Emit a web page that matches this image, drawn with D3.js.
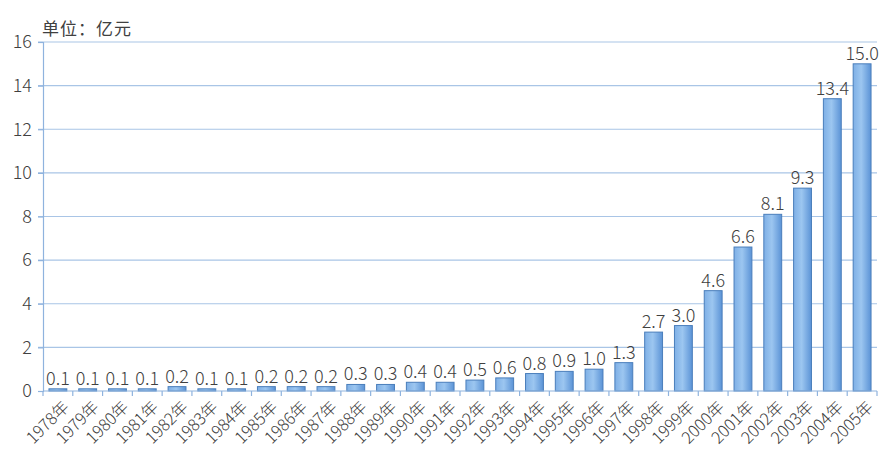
<!DOCTYPE html>
<html><head><meta charset="utf-8">
<script src="https://cdn.jsdelivr.net/npm/d3@7"></script>
<style>body{margin:0;background:#fff}</style>
</head><body>
<svg id="c" width="892" height="461"></svg>
<script>
const years = ["1978年","1979年","1980年","1981年","1982年","1983年","1984年","1985年","1986年","1987年","1988年","1989年","1990年","1991年","1992年","1993年","1994年","1995年","1996年","1997年","1998年","1999年","2000年","2001年","2002年","2003年","2004年","2005年"];
const values = [0.1,0.1,0.1,0.1,0.2,0.1,0.1,0.2,0.2,0.2,0.3,0.3,0.4,0.4,0.5,0.6,0.8,0.9,1.0,1.3,2.7,3.0,4.6,6.6,8.1,9.3,13.4,15.0];
const yTicks = [0,2,4,6,8,10,12,14,16];
const unitLabel = "单位：亿元";

const svg = d3.select("#c");
const m = {l:43, r:877, t:42, b:391};
const x = d3.scaleBand().domain(years).range([m.l, m.r]).paddingInner(0.4).paddingOuter(0.2);
const y = d3.scaleLinear().domain([0,16]).range([m.b, m.t]);
const font = "'Noto Sans CJK SC', 'Noto Sans', sans-serif";

const defs = svg.append("defs");
const g = defs.append("linearGradient").attr("id","bg").attr("x1","0").attr("x2","1").attr("y1","0").attr("y2","0");
g.append("stop").attr("offset","0%").attr("stop-color","#7fb0e6");
g.append("stop").attr("offset","45%").attr("stop-color","#9cc6f0");
g.append("stop").attr("offset","100%").attr("stop-color","#5b93d6");

// gridlines
svg.append("g").selectAll("line").data(yTicks.filter(d=>d>0)).join("line")
  .attr("x1", m.l-5).attr("x2", m.r).attr("y1", d=>y(d)).attr("y2", d=>y(d))
  .attr("stroke","#a9c5e6").attr("stroke-width",1.2);

// y axis
const ya = svg.append("g").attr("transform",`translate(${m.l},0)`)
  .call(d3.axisLeft(y).tickValues(yTicks).tickSize(5).tickPadding(6));
ya.select(".domain").attr("stroke","#8fb3de").attr("stroke-width",1.2);
ya.selectAll(".tick line").attr("stroke","#8fb3de").attr("stroke-width",1.2);
ya.selectAll("text").attr("font-family",font).attr("font-size",18).attr("font-weight",300).attr("fill","#404040");

// bars
svg.append("g").selectAll("rect").data(values).join("rect")
  .attr("x",(d,i)=>x(years[i])).attr("width",x.bandwidth())
  .attr("y",d=>y(d)).attr("height",d=>y(0)-y(d))
  .attr("fill","url(#bg)").attr("stroke","#4a7ebb").attr("stroke-width",1);

// x axis
const step = x.step();
const xa = svg.append("g").attr("transform",`translate(0,${m.b})`);
xa.append("line").attr("x1",m.l).attr("x2",m.r).attr("stroke","#8fb3de").attr("stroke-width",1.2);
const bounds = years.map((d,i)=>m.l + i*step).concat([m.r]);
xa.selectAll("line.tk").data(bounds).join("line").attr("class","tk")
  .attr("x1",d=>d).attr("x2",d=>d).attr("y1",0).attr("y2",5)
  .attr("stroke","#8fb3de").attr("stroke-width",1.2);
xa.selectAll("text").data(years).join("text")
  .attr("transform",d=>`translate(${x(d)+x.bandwidth()/2+4},9) rotate(-45)`)
  .attr("text-anchor","end").attr("dy","0.7em")
  .attr("font-family",font).attr("font-size",16.5).attr("font-weight",300).attr("fill","#404040")
  .text(d=>d);

// value labels
svg.append("g").selectAll("text").data(values).join("text")
  .attr("x",(d,i)=>x(years[i])+x.bandwidth()/2).attr("y",d=>y(d)-4)
  .attr("text-anchor","middle").attr("font-family",font).attr("font-size",18).attr("font-weight",300).attr("fill","#404040")
  .text(d=>d.toFixed(1));

svg.append("text").attr("x",42).attr("y",35).attr("font-family",font).attr("font-size",17).attr("letter-spacing",1).attr("fill","#404040").text(unitLabel);
</script>
</body></html>
